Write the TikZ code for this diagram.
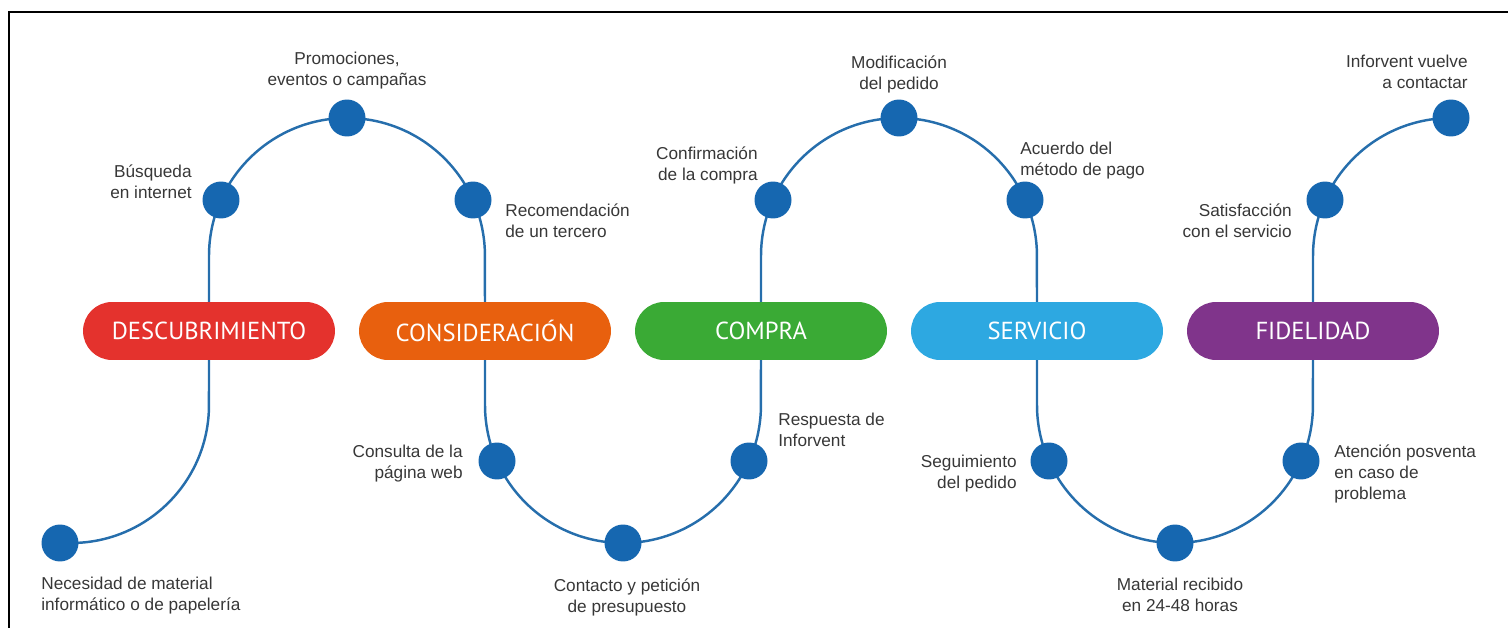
\documentclass[tikz,border=0pt]{standalone}
\usepackage{fontspec}
\setmainfont{Liberation Sans}
\newfontfamily\stagefont{PT Sans}
\usepackage{tikz}
\usetikzlibrary{backgrounds}

\definecolor{stagered}{RGB}{228,50,45}
\definecolor{stageorange}{RGB}{232,96,14}
\definecolor{stagegreen}{RGB}{58,170,53}
\definecolor{stagesky}{RGB}{45,168,225}
\definecolor{stagepurple}{RGB}{128,52,139}
\definecolor{dotblue}{RGB}{22,103,176}
\definecolor{trackblue}{RGB}{38,110,172}
\definecolor{labelgray}{RGB}{55,55,55}

\tikzset{
	touch/.style={circle, minimum size=0.74cm, inner sep=0pt, fill=dotblue},
	stage/.style={rounded corners=0.58cm, minimum width=5.04cm, minimum height=1.16cm, inner sep=0pt, text=white, font=\stagefont\fontsize{14}{16}\selectfont},
	lbl/.style={font=\fontsize{9.8}{11.7}\selectfont, text=labelgray, inner sep=0pt},
	track/.style={line width=1.4pt, color=trackblue}
}

\begin{document}
\begin{tikzpicture}[x=0.02cm, y=0.02cm]
	\useasboundingbox (0,0) rectangle (1508,-628);
	\draw[line width=1.1pt] (9,-628) -- (9,-12) -- (1508,-12);

	% stages
	\node (desc) [stage, fill=stagered] at (209,-331) {DESCUBRIMIENTO};
	\node (cons) [stage, fill=stageorange] at (485,-331) {CONSIDERACIÓN};
	\node (comp) [stage, fill=stagegreen] at (761,-331) {COMPRA};
	\node (serv) [stage, fill=stagesky] at (1037,-331) {SERVICIO};
	\node (fide) [stage, fill=stagepurple] at (1313,-331) {FIDELIDAD};

	% touch points along the track
	\node (d1) [touch] at (60,-543) {};
	\node (d2) [touch] at (221,-200) {};
	\node (d3) [touch] at (347,-118) {};
	\node (d4) [touch] at (473,-200) {};
	\node (d5) [touch] at (497,-461) {};
	\node (d6) [touch] at (623,-543) {};
	\node (d7) [touch] at (749,-461) {};
	\node (d8) [touch] at (773,-200) {};
	\node (d9) [touch] at (899,-118) {};
	\node (d10) [touch] at (1025,-200) {};
	\node (d11) [touch] at (1049,-461) {};
	\node (d12) [touch] at (1175,-543) {};
	\node (d13) [touch] at (1301,-461) {};
	\node (d14) [touch] at (1325,-200) {};
	\node (d15) [touch] at (1451,-118) {};

	\begin{scope}[on background layer]
		\draw[track] (d1.center) -- (71,-543) arc[start angle=270, end angle=360, radius=2.76cm]
			-- (desc.center) -- (209,-256) arc[start angle=180, end angle=0, radius=2.76cm]
			-- (cons.center) -- (485,-405) arc[start angle=180, end angle=360, radius=2.76cm]
			-- (comp.center) -- (761,-256) arc[start angle=180, end angle=0, radius=2.76cm]
			-- (serv.center) -- (1037,-405) arc[start angle=180, end angle=360, radius=2.76cm]
			-- (fide.center) -- (1313,-256) arc[start angle=180, end angle=90, radius=2.76cm]
			-- (d15.center);
	\end{scope}

	% labels (base = baseline of the last line)
	\node (t1) [lbl, anchor=base west, align=left] at (41,-610.5) {Necesidad de material\\informático o de papelería};
	\node (t2) [lbl, anchor=base east, align=right] at (192,-198.5) {Búsqueda\\en internet};
	\node (t3) [lbl, anchor=base, align=center] at (347,-85.5) {Promociones,\\eventos o campañas};
	\node (t4) [lbl, anchor=base west, align=left] at (505,-237.5) {Recomendación\\de un tercero};
	\node (t5) [lbl, anchor=base east, align=right] at (463,-478.5) {Consulta de la\\página web};
	\node (t6) [lbl, anchor=base, align=center] at (627,-612.5) {Contacto y petición\\de presupuesto};
	\node (t7) [lbl, anchor=base west, align=left] at (778,-446.5) {Respuesta de\\Inforvent};
	\node (t8) [lbl, anchor=base east, align=right] at (758,-180.5) {Confirmación\\de la compra};
	\node (t9) [lbl, anchor=base, align=center] at (899,-89.5) {Modificación\\del pedido};
	\node (t10) [lbl, anchor=base west, align=left] at (1020,-175.5) {Acuerdo del\\método de pago};
	\node (t11) [lbl, anchor=base east, align=right] at (1017,-488.5) {Seguimiento\\del pedido};
	\node (t12) [lbl, anchor=base, align=center] at (1180,-611.5) {Material recibido\\en 24-48 horas};
	\node (t13) [lbl, anchor=base west, align=left] at (1334,-499) {Atención posventa\\en caso de\\problema};
	\node (t14) [lbl, anchor=base east, align=right] at (1292,-237.5) {Satisfacción\\con el servicio};
	\node (t15) [lbl, anchor=base east, align=right] at (1468,-88.5) {Inforvent vuelve\\a contactar};
\end{tikzpicture}
\end{document}
